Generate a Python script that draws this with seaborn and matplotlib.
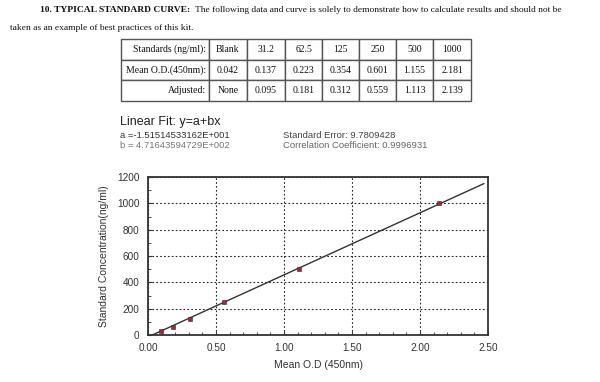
import matplotlib.pyplot as plt
import seaborn as sns
import numpy as np
import pandas as pd
from matplotlib.table import Table
from matplotlib.ticker import MultipleLocator

# table data
row_labels = ['Standards (ng/ml):', 'Mean O.D.(450nm):', 'Adjusted:']
standards = ['Blank', '31.2', '62.5', '125', '250', '500', '1000']
mean_od = ['0.042', '0.137', '0.223', '0.354', '0.601', '1.155', '2.181']
adjusted = ['None', '0.095', '0.181', '0.312', '0.559', '1.113', '2.139']

# curve data (adjusted OD vs standard concentration)
od_points = [0.095, 0.181, 0.312, 0.559, 1.113, 2.139]
conc_points = [31.2, 62.5, 125, 250, 500, 1000]

# linear fit y = a + b*x
fit_a = -1.51514533162E+001
fit_b = 4.71643594729E+002
fit_od_range = [0.032, 2.47]

sns.set_style('ticks')
plt.rcParams['font.family'] = ['Liberation Sans', 'DejaVu Sans']

W, H = 600, 382
fig = plt.figure(figsize=(6, 3.82), dpi=100)
fig.patch.set_facecolor('white')

def fx(px):
    return px / W

def fy(py):
    return 1 - py / H

# header text
serif = 'Liberation Serif'
fig.text(fx(40), fy(10), '10. TYPICAL STANDARD CURVE:', family=serif, weight='bold',
         fontsize=6.8, va='center', ha='left', color='#111')
fig.text(fx(195), fy(10), 'The following data and curve is solely to demonstrate how to calculate results and should not be',
         family=serif, fontsize=6.8, va='center', ha='left', color='#111')
fig.text(fx(10), fy(28), 'taken as an example of best practices of this kit.', family=serif,
         fontsize=6.8, va='center', ha='left', color='#111')

# table
tab_l, tab_r, tab_t, tab_b = 120.7, 471, 39.3, 101
tax = fig.add_axes([fx(tab_l), fy(tab_b), fx(tab_r - tab_l), (tab_b - tab_t) / H])
tax.set_axis_off()
col_px = [88.3, 37.7, 38.3, 37.3, 36.7, 37, 37.3, 37.7]
col_w = np.array(col_px) / sum(col_px)
tbl = Table(tax, bbox=[0, 0, 1, 1])
rows = [standards, mean_od, adjusted]
for r, (lab, vals) in enumerate(zip(row_labels, rows)):
    c0 = tbl.add_cell(r, 0, width=col_w[0], height=1 / 3, text=lab, loc='right')
    c0.PAD = 0.03
    for c, v in enumerate(vals):
        tbl.add_cell(r, c + 1, width=col_w[c + 1], height=1 / 3, text=v, loc='center')
tbl.auto_set_font_size(False)
tbl.set_fontsize(7.0)
for cell in tbl.get_celld().values():
    cell.set_edgecolor('#555555')
    cell.set_linewidth(1.0)
    cell.get_text().set_fontfamily(serif)
    cell.get_text().set_color('#111')
tax.add_table(tbl)

# fit text
fig.text(fx(120), fy(122), 'Linear Fit: y=a+bx', fontsize=9, va='center', color='#222')
fig.text(fx(120), fy(136), 'a =-1.51514533162E+001', fontsize=6.8, va='center', color='#333')
fig.text(fx(120), fy(146), 'b = 4.71643594729E+002', fontsize=6.8, va='center', color='#777')
fig.text(fx(283), fy(136), 'Standard Error: 9.7809428', fontsize=6.8, va='center', color='#444')
fig.text(fx(283), fy(146), 'Correlation Coefficient: 0.9996931', fontsize=6.8, va='center', color='#666')

# chart
ax_l, ax_r, ax_t, ax_b = 148, 488, 177, 335
ax = fig.add_axes([fx(ax_l), fy(ax_b), fx(ax_r - ax_l), (ax_b - ax_t) / H])

fit_df = pd.DataFrame({'od': fit_od_range})
fit_df['conc'] = fit_a + fit_b * fit_df['od']
pts = pd.DataFrame({'od': od_points, 'conc': conc_points})

sns.lineplot(data=fit_df, x='od', y='conc', ax=ax, color='#333333', linewidth=1.0)
sns.scatterplot(data=pts, x='od', y='conc', ax=ax, marker='s', s=9, color='#9e2a3a',
                edgecolor='#5a1520', linewidth=0.4, zorder=3)

ax.set_xlim(0, 2.5)
ax.set_ylim(0, 1200)
ax.xaxis.set_major_locator(MultipleLocator(0.5))
ax.xaxis.set_minor_locator(MultipleLocator(0.1))
ax.yaxis.set_major_locator(MultipleLocator(200))
ax.yaxis.set_minor_locator(MultipleLocator(100))
ax.set_xticklabels([f'{v:.2f}' for v in ax.get_xticks()])
ax.grid(True, which='major', color='#222', linestyle=(0, (1.5, 2)), linewidth=0.8)
for s in ax.spines.values():
    s.set_visible(True)
    s.set_color('#333')
    s.set_linewidth(1.3)
ax.tick_params(which='major', direction='in', length=3, width=0.8, labelsize=7.2,
               colors='#333', labelcolor='#333', pad=6)
ax.tick_params(which='minor', direction='in', length=2, width=0.6, colors='#333')
ax.set_xlabel('Mean O.D (450nm)', fontsize=7.5, color='#333', labelpad=5)
ax.set_ylabel('Standard Concentration(ng/ml)', fontsize=7.5, color='#333', labelpad=6)

fig.savefig('out.png', dpi=100, facecolor='white')
